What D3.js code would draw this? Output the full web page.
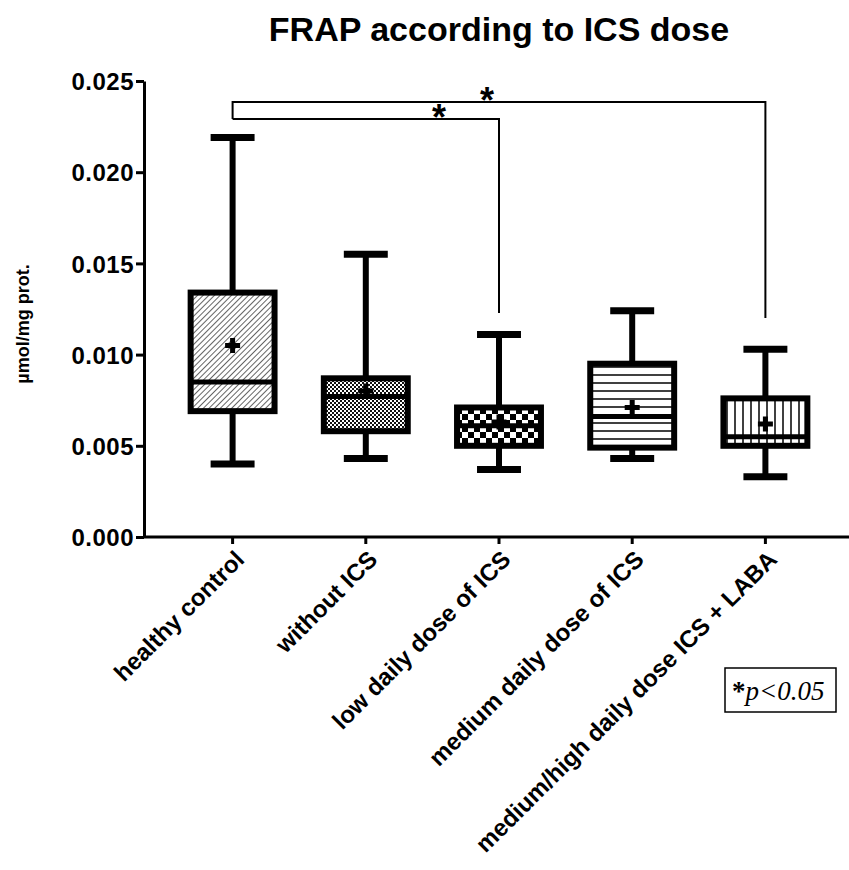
<!DOCTYPE html>
<html>
<head>
  <meta charset="utf-8">
  <title>FRAP according to ICS dose</title>
  <script src="https://d3js.org/d3.v7.min.js"></script>
  <style>
    body { margin: 0; background: #fff; }
    svg { display: block; font-family: "Liberation Sans", Arial, sans-serif; }
  </style>
</head>
<body>
<div id="container"></div>
<script>
// data
var categories = ["healthy control", "without ICS", "low daily dose of ICS",
                  "medium daily dose of ICS", "medium/high daily dose ICS + LABA"];
var minVals    = [0.0040, 0.0043, 0.0037, 0.0043, 0.0033];
var q1Vals     = [0.0069, 0.0058, 0.0050, 0.0049, 0.0050];
var medianVals = [0.0085, 0.0077, 0.0061, 0.0066, 0.0055];
var q3Vals     = [0.0134, 0.0087, 0.0071, 0.0095, 0.0076];
var maxVals    = [0.0219, 0.0155, 0.0111, 0.0124, 0.0103];
var meanVals   = [0.0105, 0.0080, 0.0063, 0.0071, 0.0062];
var patterns   = ["diag", "finecheck", "check", "hlines", "vlines"];
var yTicks     = [0, 0.005, 0.010, 0.015, 0.020, 0.025];

// significance brackets: from / to category index, bar level, right leg end, star position (category units)
var brackets = [
  {from: 0, to: 4, level: 0.02385, rightEnd: 0.0120, star: 1.91},
  {from: 0, to: 2, level: 0.02292, rightEnd: 0.01228, star: 1.55}
];

var width = 849, height = 870;
var axisLeft = 144, axisBottom = 537, axisTop = 81;

var svg = d3.select("#container").append("svg")
  .attr("width", width)
  .attr("height", height);

var x = d3.scaleBand()
  .domain(categories)
  .range([166, 832])
  .padding(0);

var y = d3.scaleLinear()
  .domain([0, 0.025])
  .range([axisBottom, axisTop]);

function cx(i) { return x(categories[i]) + x.bandwidth() / 2; }
function cxf(f) { return x(categories[0]) + x.bandwidth() / 2 + f * x.step(); }

// fill patterns
var defs = svg.append("defs");

var p1 = defs.append("pattern").attr("id", "diag")
  .attr("patternUnits", "userSpaceOnUse").attr("width", 4).attr("height", 4)
  .attr("patternTransform", "rotate(45)");
p1.append("rect").attr("width", 4).attr("height", 4).attr("fill", "#fff");
p1.append("line").attr("x1", 0).attr("y1", 0).attr("x2", 0).attr("y2", 4)
  .attr("stroke", "#222").attr("stroke-width", 1.4);

var p2 = defs.append("pattern").attr("id", "finecheck")
  .attr("patternUnits", "userSpaceOnUse").attr("width", 4).attr("height", 4);
p2.append("rect").attr("width", 4).attr("height", 4).attr("fill", "#fff");
p2.append("rect").attr("width", 2).attr("height", 2).attr("fill", "#111");
p2.append("rect").attr("x", 2).attr("y", 2).attr("width", 2).attr("height", 2).attr("fill", "#111");

var p3 = defs.append("pattern").attr("id", "check")
  .attr("patternUnits", "userSpaceOnUse").attr("width", 12).attr("height", 12);
p3.append("rect").attr("width", 12).attr("height", 12).attr("fill", "#fff");
p3.append("rect").attr("width", 6).attr("height", 6).attr("fill", "#000");
p3.append("rect").attr("x", 6).attr("y", 6).attr("width", 6).attr("height", 6).attr("fill", "#000");

var p4 = defs.append("pattern").attr("id", "hlines")
  .attr("patternUnits", "userSpaceOnUse").attr("width", 8).attr("height", 8);
p4.append("rect").attr("width", 8).attr("height", 8).attr("fill", "#fff");
p4.append("line").attr("x1", 0).attr("y1", 7).attr("x2", 8).attr("y2", 7)
  .attr("stroke", "#000").attr("stroke-width", 1.5);

var p5 = defs.append("pattern").attr("id", "vlines")
  .attr("patternUnits", "userSpaceOnUse").attr("width", 8).attr("height", 8);
p5.append("rect").attr("width", 8).attr("height", 8).attr("fill", "#fff");
p5.append("line").attr("x1", 7).attr("y1", 0).attr("x2", 7).attr("y2", 8)
  .attr("stroke", "#000").attr("stroke-width", 1.5);

// title
svg.append("text")
  .attr("x", 499)
  .attr("y", 41)
  .attr("text-anchor", "middle")
  .style("font-size", "34px")
  .style("font-weight", "bold")
  .text("FRAP according to ICS dose");

// y axis
var yAxis = svg.append("g")
  .attr("transform", "translate(" + axisLeft + ",0)")
  .call(d3.axisLeft(y).tickValues(yTicks).tickFormat(d3.format(".3f")).tickSize(8).tickSizeOuter(0));
yAxis.select(".domain").attr("stroke", "#000").attr("stroke-width", 3);
yAxis.selectAll(".tick line").attr("stroke", "#000").attr("stroke-width", 3);
yAxis.selectAll(".tick text")
  .attr("x", -10)
  .attr("dy", "0.36em")
  .style("font-family", "'Liberation Sans', Arial, sans-serif")
  .style("font-size", "24px")
  .style("font-weight", "bold")
  .style("letter-spacing", "0.5px")
  .attr("fill", "#000");

svg.append("text")
  .attr("transform", "translate(29," + 324 + ") rotate(-90)")
  .attr("text-anchor", "middle")
  .style("font-size", "18px")
  .style("font-weight", "bold")
  .text("µmol/mg prot.");

// x axis
var xAxis = svg.append("g")
  .attr("transform", "translate(0," + axisBottom + ")")
  .call(d3.axisBottom(x).tickSize(7).tickSizeOuter(0));
xAxis.select(".domain").attr("d", "M" + axisLeft + ",0H" + width)
  .attr("stroke", "#000").attr("stroke-width", 3);
xAxis.selectAll(".tick line").attr("stroke", "#000").attr("stroke-width", 3);
xAxis.selectAll(".tick text")
  .attr("y", 0)
  .attr("dy", 0)
  .attr("text-anchor", "end")
  .attr("transform", "translate(13,24) rotate(-45)")
  .style("font-family", "'Liberation Sans', Arial, sans-serif")
  .style("font-size", "24px")
  .style("font-weight", "bold")
  .attr("fill", "#000");

// boxes
var boxW = x.bandwidth() * 0.63;
var capW = x.bandwidth() * 0.33;

var boxes = svg.selectAll(".box")
  .data(categories)
  .enter().append("g")
  .attr("class", "box");

boxes.append("line")
  .attr("x1", function(d, i) { return cx(i); })
  .attr("x2", function(d, i) { return cx(i); })
  .attr("y1", function(d, i) { return y(maxVals[i]); })
  .attr("y2", function(d, i) { return y(q3Vals[i]); })
  .attr("stroke", "#000").attr("stroke-width", 6);
boxes.append("line")
  .attr("x1", function(d, i) { return cx(i); })
  .attr("x2", function(d, i) { return cx(i); })
  .attr("y1", function(d, i) { return y(q1Vals[i]); })
  .attr("y2", function(d, i) { return y(minVals[i]); })
  .attr("stroke", "#000").attr("stroke-width", 6);

boxes.append("line")
  .attr("x1", function(d, i) { return cx(i) - capW / 2; })
  .attr("x2", function(d, i) { return cx(i) + capW / 2; })
  .attr("y1", function(d, i) { return y(maxVals[i]); })
  .attr("y2", function(d, i) { return y(maxVals[i]); })
  .attr("stroke", "#000").attr("stroke-width", 7);
boxes.append("line")
  .attr("x1", function(d, i) { return cx(i) - capW / 2; })
  .attr("x2", function(d, i) { return cx(i) + capW / 2; })
  .attr("y1", function(d, i) { return y(minVals[i]); })
  .attr("y2", function(d, i) { return y(minVals[i]); })
  .attr("stroke", "#000").attr("stroke-width", 7);

boxes.append("rect")
  .attr("x", function(d, i) { return cx(i) - boxW / 2; })
  .attr("y", function(d, i) { return y(q3Vals[i]); })
  .attr("width", boxW)
  .attr("height", function(d, i) { return y(q1Vals[i]) - y(q3Vals[i]); })
  .attr("fill", function(d, i) { return "url(#" + patterns[i] + ")"; })
  .attr("stroke", "#000")
  .attr("stroke-width", 6);

boxes.append("line")
  .attr("x1", function(d, i) { return cx(i) - boxW / 2; })
  .attr("x2", function(d, i) { return cx(i) + boxW / 2; })
  .attr("y1", function(d, i) { return y(medianVals[i]); })
  .attr("y2", function(d, i) { return y(medianVals[i]); })
  .attr("stroke", "#000").attr("stroke-width", 5);

boxes.append("path")
  .attr("transform", function(d, i) { return "translate(" + cx(i) + "," + y(meanVals[i]) + ")"; })
  .attr("d", d3.symbol(d3.symbolCross).size(125))
  .attr("fill", "#000");

// significance brackets
svg.selectAll(".bracket")
  .data(brackets)
  .enter().append("path")
  .attr("class", "bracket")
  .attr("fill", "none")
  .attr("stroke", "#000")
  .attr("stroke-width", 2)
  .attr("d", function(b) {
    return "M" + cx(b.from) + "," + y(brackets[1].level) +
      "V" + y(b.level) + "H" + cx(b.to) + "V" + y(b.rightEnd);
  });

svg.selectAll(".star")
  .data(brackets)
  .enter().append("text")
  .attr("class", "star")
  .attr("x", function(b) { return cxf(b.star); })
  .attr("y", function(b) { return y(b.level) + 11; })
  .attr("text-anchor", "middle")
  .style("font-size", "36px")
  .style("font-weight", "bold")
  .text("*");

// p-value note
svg.append("rect")
  .attr("x", 725).attr("y", 668)
  .attr("width", 111).attr("height", 44)
  .attr("fill", "none").attr("stroke", "#000").attr("stroke-width", 1.5);
var note = svg.append("text")
  .attr("x", 732).attr("y", 700)
  .style("font-family", "'Liberation Serif', 'Times New Roman', serif")
  .style("font-size", "27px");
note.append("tspan").style("font-weight", "bold").text("*");
note.append("tspan").style("font-style", "italic").text("p<0.05");
</script>
</body>
</html>
